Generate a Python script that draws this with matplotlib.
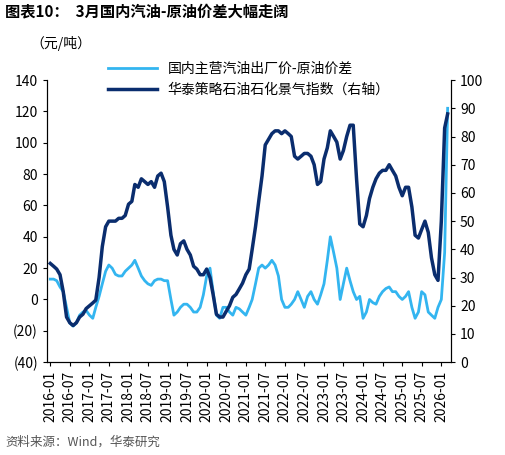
import matplotlib
matplotlib.use("Agg")
import matplotlib.pyplot as plt
import matplotlib.ticker as mt
import pandas as pd

plt.rcParams['font.family'] = ['Noto Sans CJK SC', 'DejaVu Sans']

dates = pd.date_range("2016-01-01", "2026-03-01", freq="MS")
index_vals = [35,34,33,31,25,16,14,13,14,16,17,19,
 20,21,22,30,41,48,50,50,50,51,51,52,
 56,57,63,62,65,64,63,64,62,66,67,64,
 55,45,40,38,42,43,40,38,34,33,31,31,
 33,30,24,17,16,16,18,20,23,24,26,28,
 31,33,40,48,57,66,77,79,81,82,82,81,
 82,81,80,73,72,73,74,74,73,70,63,64,
 72,76,82,80,78,72,75,80,84,84,65,49,
 48,52,58,62,65,67,68,68,70,68,66,62,
 59,62,62,55,45,44,47,50,46,37,31,29,
 50,83,88]
spread = [13,13,12,8,5,-5,-15,-17,-15,-10,-8,-7,
 -10,-12,-5,2,10,18,22,20,16,15,15,18,
 20,22,25,20,15,12,10,9,12,13,13,12,
 12,0,-10,-8,-5,-3,-3,-5,-8,-8,-5,3,
 15,20,5,-10,-12,-5,-5,-8,-10,-5,-6,-8,
 -10,-5,0,10,20,22,20,22,25,22,15,0,
 -5,-5,-3,0,5,0,-5,2,5,0,-3,3,
 10,25,40,30,20,0,10,20,12,5,0,2,
 -12,-8,0,-2,-3,2,5,7,8,5,5,2,
 0,2,5,-5,-12,-8,5,3,-8,-10,-12,-5,
 0,30,122]
label_spread = "国内主营汽油出厂价-原油价差"
label_index = "华泰策略石油石化景气指数（右轴）"

fig = plt.figure(figsize=(5.05, 4.55), dpi=100)
ax = fig.add_axes([0.093, 0.204, 0.80, 0.62])
ax2 = ax.twinx()
l1, = ax.plot(dates, spread, color="#33b5f0", lw=2, label=label_spread)
l2, = ax2.plot(dates, index_vals, color="#0a2d6e", lw=2.5, label=label_index)
ax.set_ylim(-40, 140)
ax.set_yticks(range(-40, 141, 20))
ax.yaxis.set_major_formatter(mt.FuncFormatter(lambda v, p: f"({int(-v)})" if v < 0 else f"{int(v)}"))
ax2.set_ylim(0, 100)
ax2.set_yticks(range(0, 101, 10))
ticks = pd.date_range("2016-01-01", "2026-01-01", freq="6MS")
ax.set_xticks(ticks)
ax.set_xticklabels([d.strftime("%Y-%m") for d in ticks], rotation=90)
ax.set_xlim(pd.Timestamp("2015-12-01"), pd.Timestamp("2026-04-01"))
for a in (ax, ax2):
    a.tick_params(labelsize=10, length=3)
    for s in ("top",):
        a.spines[s].set_visible(False)
ax.legend(handles=[l1, l2], loc="upper center", bbox_to_anchor=(0.5, 1.11), frameon=False,
          fontsize=10, ncol=1, handlelength=3.5)
fig.text(0.06, 0.895, "（元/吨）", fontsize=10)
fig.text(0.01, 0.965, "图表10：  3月国内汽油-原油价差大幅走阔", fontsize=11, fontweight="bold")
fig.text(0.01, 0.02, "资料来源：Wind，华泰研究", fontsize=9, color="#555555")
fig.savefig("out.png", dpi=100)
